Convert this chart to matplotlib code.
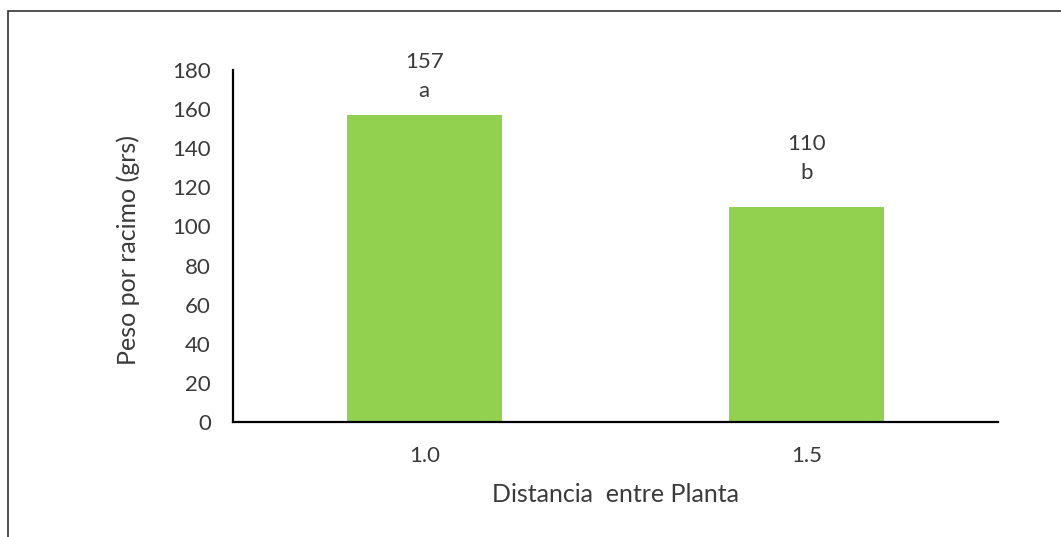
import matplotlib
matplotlib.use('Agg')
from matplotlib import pyplot as plt
from matplotlib.patches import Rectangle

distancias=['1.0','1.5']
peso=[157,110]
letras=['a','b']
subida=[0,10]   # desplazamiento extra de las etiquetas (px)

plt.rcParams['font.family']=['Lato','DejaVu Sans']
txt='#3a3a3a'

fig=plt.figure(figsize=(10.61,5.37),dpi=100)
# marco exterior del grafico
fig.patches.append(Rectangle((8/1061,-0.1),1.2,1-11/537+0.1,transform=fig.transFigure,
                             fill=False,edgecolor='#333333',linewidth=1.2))

ax=fig.add_axes([233/1061,115/537,765/1061,352/537])
x=range(len(distancias))
bars=ax.bar(x,peso,width=0.405,color='#92D050')
ax.set_xlim(-0.5,1.5)
ax.set_ylim(0,180)
ax.set_yticks(range(0,181,20))
ax.set_xticks(list(x))
ax.set_xticklabels(distancias)
ax.tick_params(length=0,labelsize=16,labelcolor=txt)
ax.tick_params(axis='y',pad=16)
ax.tick_params(axis='x',pad=17)
for s in ['top','right']:
    ax.spines[s].set_visible(False)
for s in ['left','bottom']:
    ax.spines[s].set_linewidth(1.6)
    ax.spines[s].set_color('black')

for b,v,l,d in zip(bars,peso,letras,subida):
    cx=b.get_x()+b.get_width()/2
    ax.annotate(str(v),(cx,v),xytext=(0,47+d),textcoords='offset pixels',
                ha='center',va='baseline',fontsize=16,color=txt,annotation_clip=False)
    ax.annotate(l,(cx,v),xytext=(0,18+d),textcoords='offset pixels',
                ha='center',va='baseline',fontsize=16,color=txt,annotation_clip=False)

ax.set_ylabel('Peso por racimo (grs)',fontsize=18,color=txt,va='center')
ax.set_xlabel('Distancia  entre Planta',fontsize=18,color=txt,va='center')
ax.yaxis.set_label_coords(-0.137,0.49)
ax.xaxis.set_label_coords(0.5,-0.205)

fig.savefig('out.png',dpi=100)
